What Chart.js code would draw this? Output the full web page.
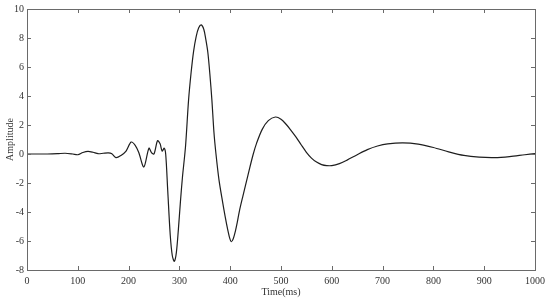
<!DOCTYPE html>
<html>
<head>
<meta charset="utf-8">
<script src="https://cdn.jsdelivr.net/npm/chart.js@4"></script>
<style>
  html, body { margin: 0; padding: 0; background: #fff; }
  #wrap { width: 550px; height: 298px; }
</style>
</head>
<body>
<div id="wrap"><canvas id="wave"></canvas></div>
<script>
// tempo (ms) e ampiezza
const timeMs = [
  0, 20, 40, 60, 75, 90, 100, 110, 120, 130, 140, 150, 160, 167, 175, 185, 195,
  205, 213, 220, 230, 240, 245, 250, 257, 262, 266, 270, 273, 277, 282, 286, 290,
  294, 298, 302, 306, 312, 318, 323, 328, 333, 338, 343, 348, 352, 356, 360, 364,
  368, 372, 378, 385, 390, 395, 399, 402, 406, 410, 414, 418, 425, 435, 445, 452,
  463, 475, 489, 500, 510, 520, 530, 540, 550, 560, 570, 580, 590, 600, 615, 630,
  650, 670, 690, 710, 740, 770, 800, 830, 860, 890, 920, 950, 980, 1000
];
const amplitude = [
  0, 0, 0, 0.02, 0.05, 0, -0.05, 0.1, 0.18, 0.12, 0.02, 0.05, 0.08, 0.02, -0.25, -0.1, 0.2,
  0.82, 0.6, 0.1, -0.9, 0.4, 0.1, 0.0, 0.92, 0.7, 0.2, 0.4, 0.0, -2.5, -5.6, -7.0, -7.4,
  -6.8, -5.2, -3.3, -1.6, 0.5, 3.7, 5.6, 7.1, 8.1, 8.7, 8.9, 8.6, 7.9, 7.0, 5.5, 3.7,
  1.5, 0.0, -1.8, -3.3, -4.3, -5.2, -5.8, -6.05, -5.85, -5.35, -4.7, -3.95, -2.9, -1.45, -0.05, 0.75,
  1.7, 2.3, 2.55, 2.4, 2.05, 1.62, 1.15, 0.62, 0.12, -0.28, -0.56, -0.73, -0.8, -0.8, -0.66, -0.42,
  -0.05, 0.3, 0.55, 0.7, 0.77, 0.68, 0.45, 0.15, -0.1, -0.22, -0.25, -0.18, -0.05, 0.03
];

const fontFamily = '"Liberation Serif", "Times New Roman", serif';

// cornice del grafico con tacche rivolte verso l'interno su tutti i lati
const frameTicks = {
  id: 'frameTicks',
  afterDraw(chart) {
    const { ctx, chartArea: a, scales: { x, y } } = chart;
    ctx.save();
    ctx.strokeStyle = '#6a6a6a';
    ctx.lineWidth = 1;
    ctx.strokeRect(Math.round(a.left) + 0.5, Math.round(a.top) + 0.5,
      Math.round(a.right - a.left), Math.round(a.bottom - a.top));
    ctx.beginPath();
    x.ticks.forEach(t => {
      const px = Math.round(x.getPixelForValue(t.value)) + 0.5;
      ctx.moveTo(px, a.bottom); ctx.lineTo(px, a.bottom - 4);
      ctx.moveTo(px, a.top); ctx.lineTo(px, a.top + 4);
    });
    y.ticks.forEach(t => {
      const py = Math.round(y.getPixelForValue(t.value)) + 0.5;
      ctx.moveTo(a.left, py); ctx.lineTo(a.left + 4, py);
      ctx.moveTo(a.right, py); ctx.lineTo(a.right - 4, py);
    });
    ctx.stroke();
    ctx.restore();
  }
};

new Chart(document.getElementById('wave'), {
  type: 'line',
  data: {
    datasets: [{
      data: timeMs.map((t, i) => ({ x: t, y: amplitude[i] })),
      borderColor: '#1e1e1e',
      borderWidth: 1.2,
      pointRadius: 0,
      fill: false,
      tension: 0.3
    }]
  },
  options: {
    responsive: true,
    maintainAspectRatio: false,
    animation: false,
    layout: { padding: { left: 0, right: 12, top: 8, bottom: 0 } },
    plugins: { legend: { display: false }, tooltip: { enabled: false } },
    scales: {
      x: {
        type: 'linear',
        min: 0,
        max: 1000,
        afterFit(scale) { scale.height = 28; },
        grid: { display: false, drawTicks: false },
        border: { display: false },
        ticks: { stepSize: 100, padding: 5, maxRotation: 0, color: '#333', font: { family: fontFamily, size: 10 },
          callback: v => String(v) },
        title: { display: true, text: 'Time(ms)', color: '#333', padding: { top: 0, bottom: 0 }, font: { family: fontFamily, size: 10 } }
      },
      y: {
        min: -8,
        max: 10,
        afterFit(scale) { scale.width = 27; },
        grid: { display: false, drawTicks: false },
        border: { display: false },
        ticks: { stepSize: 2, padding: 3, color: '#333', font: { family: fontFamily, size: 10 } },
        title: { display: true, text: 'Amplitude', color: '#333', padding: { top: 4, bottom: 0 }, font: { family: fontFamily, size: 10 } }
      }
    }
  },
  plugins: [frameTicks]
});
</script>
</body>
</html>
